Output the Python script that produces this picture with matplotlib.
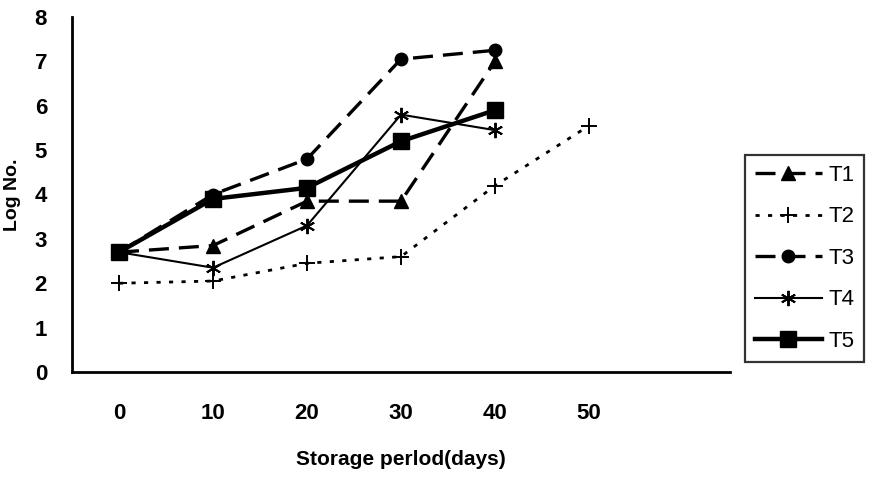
import matplotlib.pyplot as plt
from matplotlib import font_manager

# ── Data ──────────────────────────────────────────────────────
days = [0, 10, 20, 30, 40, 50]
t1 = [2.7, 2.85, 3.85, 3.85, 7.0]
t2 = [2.0, 2.05, 2.45, 2.6, 4.2, 5.55]
t3 = [2.7, 4.0, 4.8, 7.05, 7.25]
t4 = [2.7, 2.35, 3.3, 5.8, 5.45]
t5 = [2.7, 3.9, 4.15, 5.2, 5.9]
tick_labels = ["0", "10", "20", "30", "40", "50"]

fams = [f.name for f in font_manager.fontManager.ttflist]
narrow = "Liberation Sans Narrow" if "Liberation Sans Narrow" in fams else "Liberation Sans"
plt.rcParams["font.family"] = [narrow, "DejaVu Sans"]

fig = plt.figure(figsize=(8.84, 4.80), dpi=100)
ax = fig.add_axes([72 / 884, 108 / 480, 658 / 884, 355 / 480])

ax.plot(days[:5], t1, color="black", linewidth=2.4, linestyle=(0, (6, 3)),
        marker="^", markersize=10, label="T1")
ax.plot(days, t2, color="black", linewidth=2.0, linestyle=(0, (1.5, 3)),
        marker="+", markersize=11, markeredgewidth=1.4, label="T2")
ax.plot(days[:5], t3, color="black", linewidth=2.4, linestyle=(0, (6, 3)),
        marker="o", markersize=9, label="T3")
ax.plot(days[:5], t4, color="black", linewidth=1.5, linestyle="-",
        marker=(6, 2, 0), markersize=11, markeredgewidth=1.4, label="T4")
ax.plot(days[:5], t5, color="black", linewidth=3.2, linestyle="-",
        marker="s", markersize=11, label="T5")

ax.set_xlim(-5, 65)
ax.set_ylim(0, 8)
ax.set_xticks(days)
ax.set_xticklabels(tick_labels)
ax.set_yticks(range(0, 9))
ax.tick_params(length=0, labelsize=16)
for lab in ax.get_xticklabels() + ax.get_yticklabels():
    lab.set_fontweight("bold")
ax.tick_params(axis="y", pad=18)
ax.tick_params(axis="x", pad=22)

for side in ["top", "right"]:
    ax.spines[side].set_visible(False)
for side in ["left", "bottom"]:
    ax.spines[side].set_linewidth(2)

ax.set_xlabel("Storage perlod(days)", fontsize=15, fontweight="bold")
ax.set_ylabel("Log No.", fontsize=14, fontweight="bold")
ax.xaxis.set_label_coords(0.5, -0.22)
ax.yaxis.set_label_coords(-0.078, 0.5)

leg = fig.legend(loc="upper left", bbox_to_anchor=(745 / 884, 1 - 155 / 480),
                 frameon=True, fancybox=False, edgecolor="black", fontsize=16,
                 handlelength=3.0, handletextpad=0.3, labelspacing=0.92,
                 borderpad=0.45, borderaxespad=0)
leg.get_frame().set_linewidth(1.6)

fig.savefig("out.png", dpi=100, facecolor="white")
